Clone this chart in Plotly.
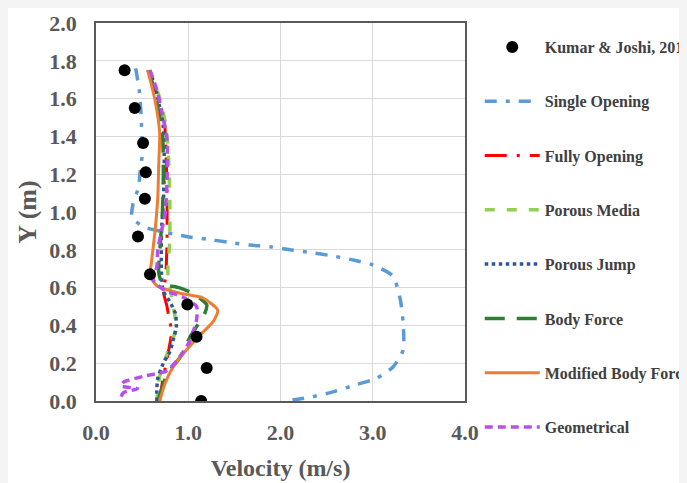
import plotly.graph_objects as go

# ---------------- data ----------------
kumar_v = [0.31, 0.42, 0.51, 0.54, 0.53, 0.455, 0.585, 0.99, 1.09, 1.20, 1.14]
kumar_y = [1.75, 1.55, 1.365, 1.21, 1.07, 0.87, 0.67, 0.51, 0.34, 0.175, 0.0]

single_v = [0.43, 0.47, 0.49, 0.50, 0.48, 0.46, 0.40, 0.39, 0.53, 0.98, 1.20, 1.43, 1.67, 1.89, 2.10,
            2.34, 2.57, 2.79, 3.00, 3.22, 3.30, 3.33, 3.33, 3.22, 3.04, 2.81, 2.54, 2.35, 2.07]
single_y = [1.76, 1.64, 1.50, 1.30, 1.22, 1.13, 1.04, 0.97, 0.92, 0.87, 0.857, 0.84, 0.825, 0.816, 0.80,
            0.785, 0.767, 0.746, 0.72, 0.66, 0.534, 0.41, 0.27, 0.18, 0.12, 0.085, 0.044, 0.023, 0.0]

fully_v = [0.56, 0.66, 0.74, 0.76, 0.77, 0.77, 0.76, 0.75, 0.73, 0.77, 0.79, 0.82, 0.80, 0.76, 0.72, 0.69]
fully_y = [1.75, 1.62, 1.48, 1.30, 1.10, 0.85, 0.70, 0.64, 0.58, 0.50, 0.44, 0.37, 0.30, 0.20, 0.10, 0.0]

porousm_v = [0.58, 0.68, 0.76, 0.79, 0.80, 0.80, 0.78, 0.78, 0.83, 0.87, 0.82, 0.77, 0.69, 0.66]
porousm_y = [1.75, 1.62, 1.45, 1.25, 1.05, 0.85, 0.72, 0.667, 0.52, 0.39, 0.31, 0.25, 0.13, 0.0]

jump_v = [0.58, 0.66, 0.73, 0.74, 0.73, 0.71, 0.71, 0.73, 0.80, 0.86, 0.87, 0.835, 0.80, 0.73, 0.67, 0.66, 0.66]
jump_y = [1.75, 1.62, 1.45, 1.25, 1.05, 0.90, 0.67, 0.58, 0.525, 0.465, 0.39, 0.32, 0.26, 0.20, 0.12, 0.07, 0.0]

body_v = [0.57, 0.65, 0.72, 0.73, 0.72, 0.70, 0.68, 0.72, 0.90, 1.05, 1.20, 1.18, 1.02, 0.91, 0.77, 0.67]
body_y = [1.75, 1.60, 1.42, 1.20, 1.00, 0.85, 0.68, 0.62, 0.60, 0.57, 0.51, 0.465, 0.34, 0.23, 0.14, 0.0]

modified_v = [0.56, 0.64, 0.69, 0.68, 0.67, 0.64, 0.60, 0.585, 0.66, 0.91, 1.16, 1.32, 1.27, 1.13, 0.98,
              0.835, 0.75, 0.69]
modified_y = [1.75, 1.59, 1.42, 1.25, 1.08, 0.90, 0.73, 0.66, 0.61, 0.57, 0.545, 0.48, 0.42, 0.35, 0.27,
              0.18, 0.095, 0.0]

geo_v = [0.585, 0.66, 0.71, 0.77, 0.77, 0.75, 0.71, 0.67, 0.66, 0.62, 0.73, 0.94, 1.09, 1.09, 1.02, 0.91,
         0.77, 0.51, 0.30, 0.27, 0.45, 0.30, 0.27, 0.27]
geo_y = [1.75, 1.645, 1.54, 1.38, 1.17, 0.99, 0.90, 0.80, 0.71, 0.64, 0.59, 0.55, 0.50, 0.43, 0.32, 0.235,
         0.16, 0.13, 0.10, 0.08, 0.065, 0.045, 0.02, 0.0]

x_ticks = [0.0, 1.0, 2.0, 3.0, 4.0]
y_ticks = [0.0, 0.2, 0.4, 0.6, 0.8, 1.0, 1.2, 1.4, 1.6, 1.8, 2.0]

# ---------------- figure ----------------
fig = go.Figure()

def add_line(name, xs, ys, color, dash, width, rank):
    fig.add_trace(go.Scatter(
        x=xs, y=ys, mode="lines", name=name,
        line=dict(color=color, dash=dash, width=width, shape="spline", smoothing=0.6),
        legendgroup=name, legendrank=rank,
    ))

add_line("Single Opening", single_v, single_y, "#5b9bd5", "12px,9px,4px,9px", 3.5, 2)
add_line("Fully Opening", fully_v, fully_y, "#ff0000", "22px,10px,3px,10px", 3, 3)
add_line("Porous Media", porousm_v, porousm_y, "#92d050", "10px,12px", 3.5, 4)
add_line("Porous Jump", jump_v, jump_y, "#2f5597", "dot", 3.5, 5)
add_line("Body Force", body_v, body_y, "#2e7d32", "20px,12px", 3.5, 6)
add_line("Modified Body Force", modified_v, modified_y, "#ed7d31", "solid", 3, 7)
add_line("Geometrical", geo_v, geo_y, "#b84fe8", "8px,5px", 3.5, 8)

fig.add_trace(go.Scatter(
    x=kumar_v, y=kumar_y, mode="markers", name="Kumar & Joshi, 2010",
    marker=dict(color="black", size=12), legendgroup="kumar", legendrank=1,
))

tick_font = dict(family="Liberation Serif", size=22, color="#595959", weight="bold")

fig.update_layout(
    width=687, height=483,
    margin=dict(l=88, r=230, t=15, b=90, autoexpand=False),
    paper_bgcolor="white",
    plot_bgcolor="white",
    showlegend=True,
    legend=dict(
        x=1.04, y=0.9815, xanchor="left", yanchor="top",
        font=dict(family="Liberation Serif", size=16, color="#404040", weight="bold"),
        tracegroupgap=30.5, itemwidth=55, bgcolor="rgba(0,0,0,0)",
        maxheight=470,
    ),
    xaxis=dict(
        range=[0, 4], tickvals=x_ticks, ticktext=[f"{v:.1f}" for v in x_ticks],
        showgrid=True, gridcolor="#d9d9d9", gridwidth=1,
        showline=True, linecolor="#595959", linewidth=1.5, mirror=True,
        ticks="outside", ticklen=11, tickcolor="rgba(0,0,0,0)",
        tickfont=tick_font, zeroline=False, automargin=False,
        title=dict(text="Velocity (m/s)",
                   font=dict(family="Liberation Serif", size=24, color="#595959", weight="bold"),
                   standoff=15),
    ),
    yaxis=dict(
        range=[0, 2], tickvals=y_ticks, ticktext=[f"{v:.1f}" for v in y_ticks],
        showgrid=True, gridcolor="#d9d9d9", gridwidth=1,
        showline=True, linecolor="#595959", linewidth=1.5, mirror=True,
        ticks="outside", ticklen=13, tickcolor="rgba(0,0,0,0)",
        tickfont=tick_font, zeroline=False, automargin=False,
        title=dict(text="Y (m)",
                   font=dict(family="Liberation Serif", size=26, color="#595959", weight="bold"),
                   standoff=5),
    ),
)

fig.write_html("out.html", post_script="document.body.style.background='#f4f4f4';")
